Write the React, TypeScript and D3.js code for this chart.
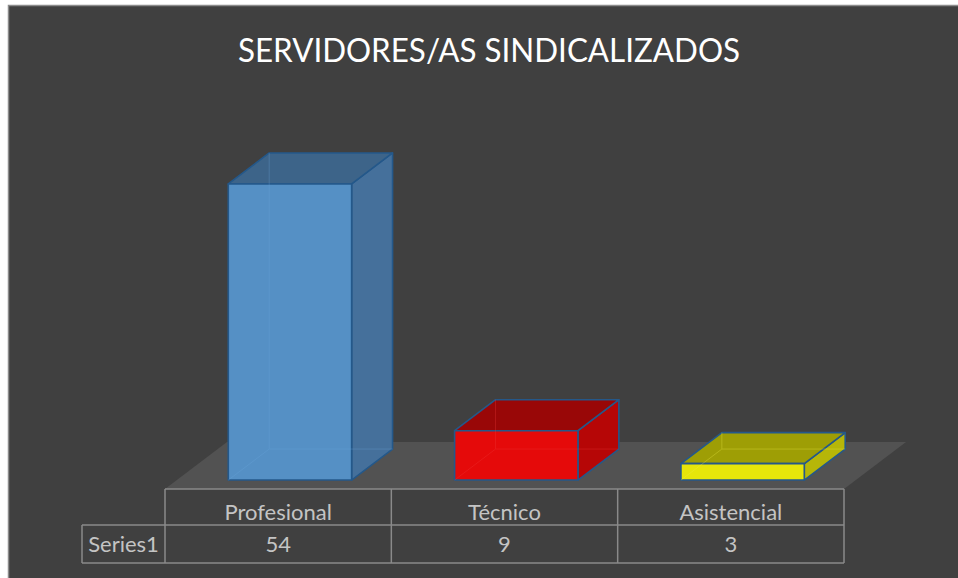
import React from "react";
import * as d3 from "d3";

const title = "SERVIDORES/AS SINDICALIZADOS";
const categories = ["Profesional", "Técnico", "Asistencial"];
const seriesName = "Series1";
const values = [54, 9, 3];
const fronts = ["#5590C5", "#E50A0A", "#E6E60A"];
const tops = ["#3D6489", "#990707", "#9E9E05"];
const sides = ["#45709B", "#B60606", "#B6B608"];
const hiddenEdge = ["#6AA6DC", "#F03A3A", "#F0F04A"];

const W = 958;
const H = 578;
const FLOOR_Y = 489;
const DX = 62;
const DY = 47;
const Z0 = 0.19;
const Z1 = 0.85;

export default function App() {
  const x = d3.scaleBand<string>().domain(categories).range([165, 844]).paddingInner(0).paddingOuter(0);
  const h = d3.scaleLinear().domain([0, 60]).range([0, 329]);
  const P = (px: number, ph: number, z: number): [number, number] => [px + z * DX, FLOOR_Y - z * DY - ph];
  const poly = (pts: [number, number][]) => pts.map((p) => p.join(",")).join(" ");
  const bw = x.bandwidth() * 0.545;
  const font = "Lato, 'Open Sans', sans-serif";
  const rowTop = 489, rowMid = 525, rowBot = 563;
  const x0 = x.range()[0], x1 = x.range()[1];
  const lineColor = "#8A8A8A";
  const textColor = "#C4C4C4";

  return (
    <svg width={W} height={H} style={{ position: "absolute", left: 0, top: 0, background: "#ffffff" }}>
      <rect x={8.5} y={5.5} width={W + 10} height={H + 10} fill="#404040" stroke="#8C8C8C" strokeWidth={1.5} />
      <text x={489} y={62} textAnchor="middle" fill="#ffffff" fontFamily={font} fontSize={33} textLength={502} lengthAdjust="spacingAndGlyphs">
        {title}
      </text>
      <polygon points={poly([P(x0, 0, 0), P(x1, 0, 0), P(x1, 0, 1), P(x0, 0, 1)])} fill="#525252" />
      {categories.map((c, i) => {
        const cx = (x(c) as number) + x.bandwidth() / 2;
        const L = cx - bw / 2;
        const R = cx + bw / 2;
        const v = h(values[i]);
        const front = [P(L, 0, Z0), P(R, 0, Z0), P(R, v, Z0), P(L, v, Z0)] as [number, number][];
        const top = [P(L, v, Z0), P(R, v, Z0), P(R, v, Z1), P(L, v, Z1)] as [number, number][];
        const side = [P(R, 0, Z0), P(R, 0, Z1), P(R, v, Z1), P(R, v, Z0)] as [number, number][];
        const hb = P(L, 0, Z1);
        const hbr = P(R, 0, Z1);
        const ht = P(L, v, Z1);
        const fl = P(L, 0, Z0);
        return (
          <g key={c}>
            <polygon points={poly(side)} fill={sides[i]} stroke="#24588A" strokeWidth={1.6} strokeLinejoin="round" />
            <polygon points={poly(top)} fill={tops[i]} stroke="#24588A" strokeWidth={1.6} strokeLinejoin="round" />
            <polygon points={poly(front)} fill={fronts[i]} stroke="#24588A" strokeWidth={1.6} strokeLinejoin="round" />
            <g stroke={hiddenEdge[i]} strokeWidth={1} opacity={0.3} fill="none">
              <line x1={hb[0]} y1={hb[1]} x2={ht[0]} y2={ht[1]} />
              <line x1={hb[0]} y1={hb[1]} x2={hbr[0]} y2={hbr[1]} />
              <line x1={hb[0]} y1={hb[1]} x2={fl[0]} y2={fl[1]} />
            </g>
          </g>
        );
      })}
      <g stroke={lineColor} strokeWidth={1.5} fill="none">
        <line x1={x0} y1={rowTop} x2={x1} y2={rowTop} />
        <line x1={82} y1={rowMid} x2={x1} y2={rowMid} />
        <line x1={82} y1={rowBot} x2={x1} y2={rowBot} />
        <line x1={82} y1={rowMid} x2={82} y2={rowBot} />
        {categories.map((c) => (
          <line key={c} x1={x(c) as number} y1={rowTop} x2={x(c) as number} y2={rowBot} />
        ))}
        <line x1={x1} y1={rowTop} x2={x1} y2={rowBot} />
      </g>
      {categories.map((c, i) => {
        const cx = (x(c) as number) + x.bandwidth() / 2;
        return (
          <g key={c} fill={textColor} fontFamily={font} fontSize={22} textAnchor="middle">
            <text x={cx} y={520}>{c}</text>
            <text x={cx} y={552}>{values[i]}</text>
          </g>
        );
      })}
      <text x={123.5} y={552} textAnchor="middle" fill={textColor} fontFamily={font} fontSize={22}>
        {seriesName}
      </text>
    </svg>
  );
}
